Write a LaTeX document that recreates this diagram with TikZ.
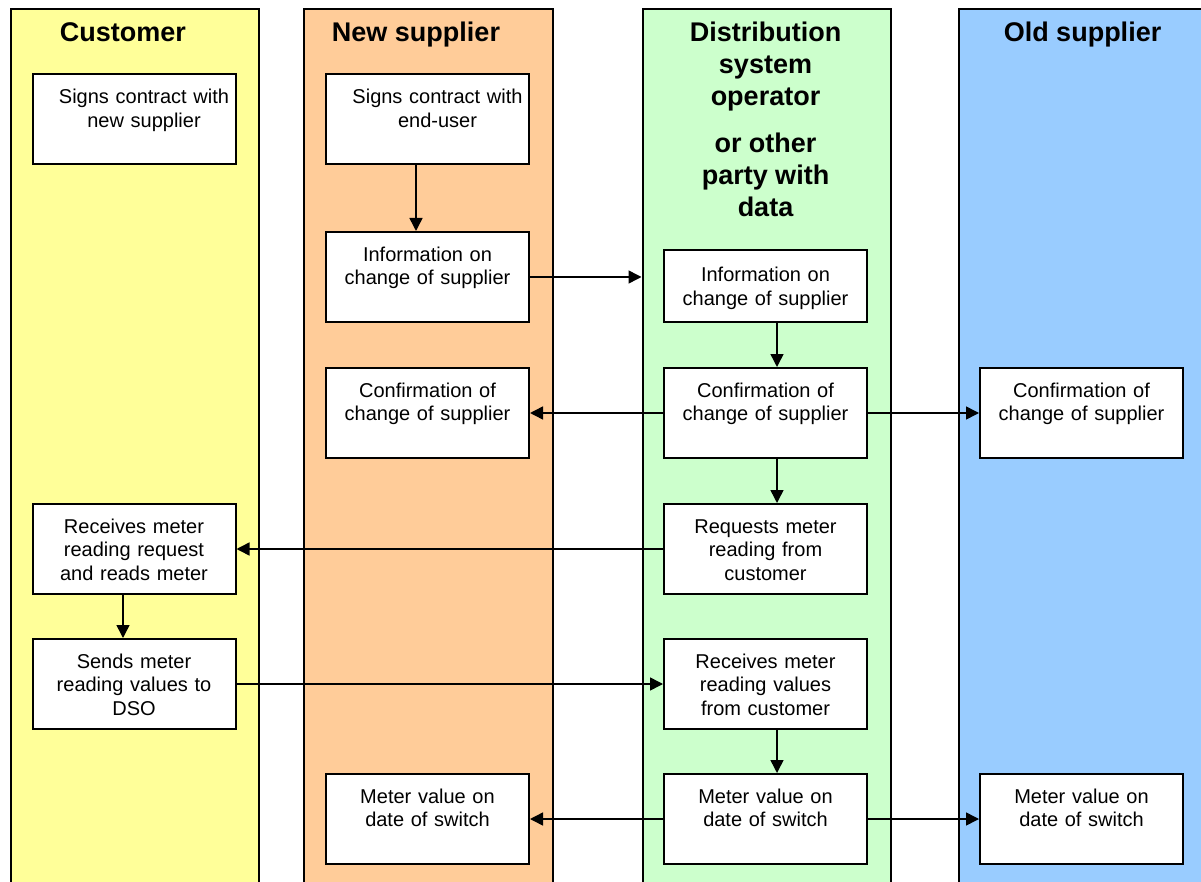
\documentclass[tikz,border=0pt]{standalone}
\usepackage{fontspec}
\setmainfont{Liberation Sans}
\usetikzlibrary{arrows.meta,calc}
\definecolor{laneY}{HTML}{FFFF99}
\definecolor{laneO}{HTML}{FFCC99}
\definecolor{laneG}{HTML}{CCFFCC}
\definecolor{laneB}{HTML}{99CCFF}
\begin{document}
\begin{tikzpicture}[x=1pt,y=-1pt,
  lane/.style={draw=black,line width=2pt,minimum width=248.5pt,minimum height=900pt,anchor=north west,inner sep=0pt},
  box/.style={draw=black,line width=2pt,fill=white,minimum width=203pt,minimum height=90pt,text width=200pt,align=center,inner sep=0pt,font=\fontsize{20}{23.5}\selectfont,execute at begin node=\rule{0pt}{22.5pt},execute at end node=\strut},
  title/.style={font=\fontsize{27}{32}\selectfont\bfseries,align=center,inner sep=0pt},
  arr/.style={line width=1.5pt,-{Triangle[length=13pt,width=13pt]}}]
\useasboundingbox (0,0) rectangle (1201,882);
% lanes
\node[lane,fill=laneY] (Lc) at (9.5,8) {};
\node[lane,fill=laneO] (Ln) at (303,8) {};
\node[lane,fill=laneG] (Ld) at (641.5,8) {};
\node[lane,fill=laneB,minimum width=280pt] (Lo) at (958,8) {};
% titles
\node[title,anchor=base] (tc) at (123,42) {Customer};
\node[title,anchor=base] (tn) at (416,42) {New supplier};
\node[title,anchor=north] (td) at (765.5,21.7) {Distribution\\system\\operator\\[15pt]or other\\party with\\data};
\node[title,anchor=base] (to) at (1082.5,42) {Old supplier};
% customer
\node[box] (c1) at (134,119.5) {\hspace*{20pt}Signs contract with\\\hspace*{20pt}new supplier\\};
\node[box] (c4) at (134,549) {Receives meter\\reading request\\and reads meter};
\node[box] (c5) at (134,684) {Sends meter\\reading values to\\DSO};
% new supplier
\node[box] (n1) at (427.5,119.5) {\hspace*{20pt}Signs contract with\\\hspace*{20pt}end-user\\};
\node[box] (n2) at (427.5,277) {Information on\\change of supplier\\};
\node[box] (n3) at (427.5,413) {Confirmation of\\change of supplier\\};
\node[box] (n6) at (427.5,819) {Meter value on\\date of switch\\};
% DSO
\node[box,minimum height=72pt] (d1) at (765.5,286) {Information on\\change of supplier};
\node[box] (d2) at (765.5,413) {Confirmation of\\change of supplier\\};
\node[box] (d4) at (765.5,549) {Requests meter\\reading from\\customer};
\node[box] (d5) at (765.5,684) {Receives meter\\reading values\\from customer};
\node[box] (d6) at (765.5,819) {Meter value on\\date of switch\\};
% old supplier
\node[box] (o3) at (1081.5,413) {Confirmation of\\change of supplier\\};
\node[box] (o6) at (1081.5,819) {Meter value on\\date of switch\\};
% connectors
\draw[arr] ([xshift=-11.5pt]n1.south) -- ([xshift=-11.5pt]n2.north);
\draw[arr] (n2.east) -- (n2.east -| Ld.west);
\draw[arr] ([xshift=11.5pt]d1.south) -- ([xshift=11.5pt]d2.north);
\draw[arr] (d2.west) -- (n3.east);
\draw[arr] (d2.east) -- (o3.west);
\draw[arr] ([xshift=11.5pt]d2.south) -- ([xshift=11.5pt]d4.north);
\draw[arr] (d4.west) -- (c4.east);
\draw[arr] ([xshift=-11pt]c4.south) -- ([xshift=-11pt]c5.north);
\draw[arr] (c5.east) -- (d5.west);
\draw[arr] ([xshift=11.5pt]d5.south) -- ([xshift=11.5pt]d6.north);
\draw[arr] (d6.west) -- (n6.east);
\draw[arr] (d6.east) -- (o6.west);
\end{tikzpicture}
\end{document}
